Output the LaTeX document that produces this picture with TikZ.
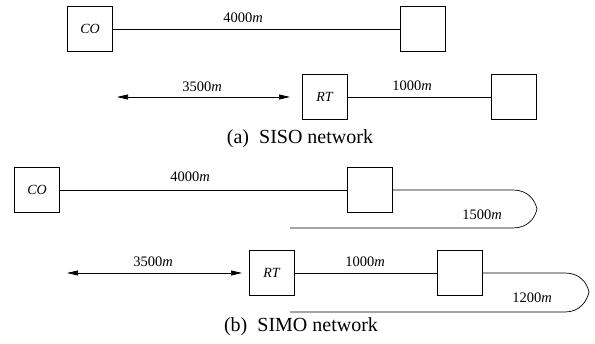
\documentclass[tikz,border=0pt]{standalone}
\usepackage{fontspec}
\setmainfont{Liberation Serif}
\usetikzlibrary{arrows.meta,positioning}

\begin{document}
\begin{tikzpicture}[x=1pt, y=-1pt,
  box/.style={draw, line width=0.7pt, minimum size=45pt, inner sep=0pt,
              font=\fontsize{14}{16}\selectfont\itshape},
  lbl/.style={font=\fontsize{14.5}{16}\selectfont, inner sep=0pt},
  captxt/.style={font=\fontsize{20}{22}\selectfont, inner sep=0pt},
  ln/.style={line width=0.7pt},
  ar/.style={line width=0.7pt, {Triangle[length=11pt,width=5pt]}-{Triangle[length=11pt,width=5pt]}},
]
\useasboundingbox (0,0) rectangle (595,344);

% (a) SISO
\node[box] (aco) at (90,29) {CO};
\node[box] (acpe) at (423,29) {};
\draw[ln] (aco) -- (acpe);
\node[lbl] (a4000) at (243,18) {4000\textit{m}};

\node[box] (art) at (324.5,97) {RT};
\node[box] (arcpe) at (514,97) {};
\coordinate (aleft) at (117,97);
\coordinate (aright) at (290,97);
\draw[ar] (aleft) -- (aright);
\draw[ln] (art) -- (arcpe);
\node[lbl] (a3500) at (202,87) {3500\textit{m}};
\node[lbl] (a1000) at (412,86) {1000\textit{m}};

\node[captxt] (capa) at (300,139) {(a)\enspace SISO network};

% (b) SIMO
\node[box] (bco) at (37,190) {CO};
\node[box] (bcpe) at (369.5,190) {};
\coordinate (bt1) at (513,190);
\coordinate (bb1) at (513,228);
\coordinate (be1) at (290,228);
\draw[ln] (bco) -- (bcpe);
\draw[ln] (bcpe) -- (bt1) .. controls (528,190) and (535,200) .. (537,209)
  .. controls (535,218) and (528,228) .. (bb1) -- (be1);
\node[lbl] (b4000) at (190,177) {4000\textit{m}};
\node[lbl] (b1500) at (482,215) {1500\textit{m}};

\node[box] (brt) at (271.5,273) {RT};
\node[box] (brcpe) at (460,273) {};
\coordinate (bleft) at (67,273);
\coordinate (bright) at (242,273);
\coordinate (bt2) at (565,273);
\coordinate (bb2) at (565,312);
\coordinate (be2) at (290,312);
\draw[ar] (bleft) -- (bright);
\draw[ln] (brt) -- (brcpe);
\draw[ln] (brcpe) -- (bt2) .. controls (580,273) and (587,283) .. (589,292)
  .. controls (587,301) and (580,312) .. (bb2) -- (be2);
\node[lbl] (b3500) at (153,262) {3500\textit{m}};
\node[lbl] (b1000) at (365,262) {1000\textit{m}};
\node[lbl] (b1200) at (532,298) {1200\textit{m}};

\node[captxt] (capb) at (301,327) {(b)\enspace SIMO network};
\end{tikzpicture}
\end{document}
